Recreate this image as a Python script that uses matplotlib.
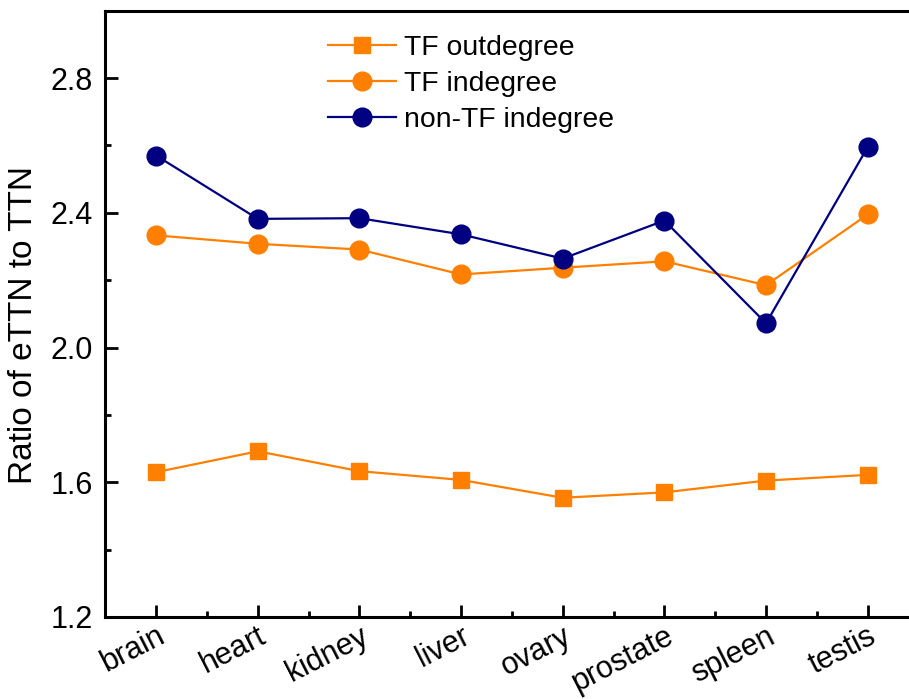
import matplotlib
matplotlib.use("Agg")
import matplotlib.pyplot as plt
from matplotlib.ticker import FixedLocator
from matplotlib.transforms import ScaledTranslation

plt.rcParams['font.family'] = ['Liberation Sans', 'DejaVu Sans']

tissues = ["brain", "heart", "kidney", "liver", "ovary", "prostate", "spleen", "testis"]
tf_outdegree = [1.630, 1.692, 1.633, 1.607, 1.554, 1.570, 1.605, 1.622]
tf_indegree = [2.333, 2.308, 2.291, 2.217, 2.237, 2.256, 2.185, 2.395]
nontf_indegree = [2.570, 2.382, 2.384, 2.336, 2.264, 2.377, 2.072, 2.595]

orange = "#FF8000"
navy = "#000080"

fig = plt.figure(figsize=(9.09, 6.99), dpi=100)
ax = fig.add_axes([105.3 / 909, 82 / 699, (918.5 - 105.3) / 909, (617 - 10.7) / 699])

x = list(range(len(tissues)))
ax.plot(x, tf_outdegree, color=orange, lw=1.6, marker='s', ms=12, label="TF outdegree")
ax.plot(x, tf_indegree, color=orange, lw=1.6, marker='o', ms=13.5, label="TF indegree")
ax.plot(x, nontf_indegree, color=navy, lw=1.6, marker='o', ms=13.5, label="non-TF indegree")

ax.set_xlim(-0.5, 7.5)
ax.set_ylim(1.2, 3.0)
ax.yaxis.set_major_locator(FixedLocator([1.2, 1.6, 2.0, 2.4, 2.8]))
ax.yaxis.set_minor_locator(FixedLocator([1.4, 1.8, 2.2, 2.6]))
ax.set_yticklabels(["1.2", "1.6", "2.0", "2.4", "2.8"])
ax.set_xticks(x)
ax.xaxis.set_minor_locator(FixedLocator([i + 0.5 for i in x]))
ax.set_xticklabels(tissues, rotation=27, ha='right', rotation_mode='anchor')
offset = ScaledTranslation(17 / 100, 0, fig.dpi_scale_trans)
for lbl in ax.get_xticklabels():
    lbl.set_transform(lbl.get_transform() + offset)

ax.tick_params(which='both', direction='in', width=2, colors='black')
ax.tick_params(axis='y', which='major', length=9, pad=9, labelsize=22)
ax.tick_params(axis='x', which='major', length=9, pad=3, labelsize=22)
ax.tick_params(which='minor', length=4.5)

for s in ax.spines.values():
    s.set_linewidth(2.2)

ax.set_ylabel("Ratio of eTTN to TTN", fontsize=24)
ax.yaxis.set_label_coords(-0.082, 0.482)

leg = ax.legend(loc='upper left', bbox_to_anchor=(328 / 909, 1 - 35 / 699),
                bbox_transform=fig.transFigure, frameon=False, fontsize=20.4,
                handlelength=2.4, handletextpad=0.3, labelspacing=0.36,
                borderpad=0, borderaxespad=0)

fig.savefig("out.png", dpi=100)
